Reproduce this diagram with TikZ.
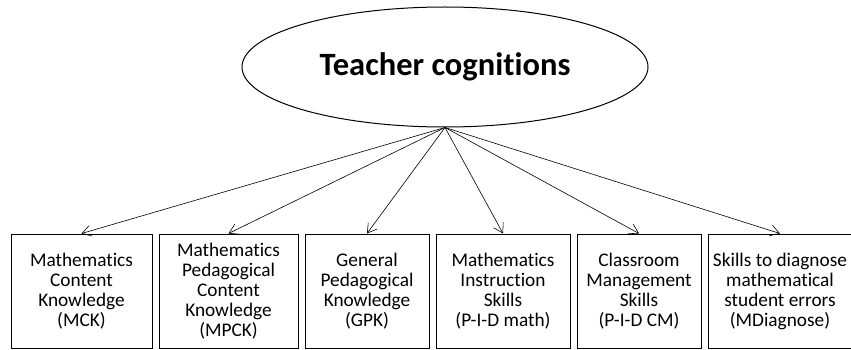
\documentclass[tikz,border=0pt]{standalone}
\usepackage{fontspec}
\setmainfont{Carlito}[Ligatures=CommonOff]
\usetikzlibrary{shapes.geometric, arrows.meta, positioning}

\begin{document}
\begin{tikzpicture}[x=1pt, y=1pt, node distance=6pt, >={Straight Barb[length=9pt,width=11pt]},
    skillbox/.style={draw, rectangle, line width=1pt, text centered, align=center, inner sep=0pt,
        minimum height=114pt, font=\fontsize{19.3}{20}\selectfont}]
    \useasboundingbox (0,0) rectangle (851,-350);
    % Nodes
    \node (cog) [draw, ellipse, line width=1pt, minimum width=406pt, minimum height=120pt, inner sep=0pt,
        font=\fontsize{32.5}{36}\selectfont\bfseries] at (445,-67) {Teacher cognitions};
    \node (mck) [skillbox, minimum width=141pt] at (81.5,-291) {Mathematics\\Content\\Knowledge\\(MCK)};
    \node (mpck) [skillbox, right=of mck, minimum width=139pt] {Mathematics\\Pedagogical\\Content\\Knowledge\\(MPCK)};
    \node (gpk) [skillbox, right=of mpck, minimum width=124pt] {General\\Pedagogical\\Knowledge\\(GPK)};
    \node (pidmath) [skillbox, right=of gpk, minimum width=134pt] {Mathematics\\Instruction\\Skills\\(P-I-D math)};
    \node (pidcm) [skillbox, right=of pidmath, minimum width=124pt] {Classroom\\Management\\Skills\\(P-I-D CM)};
    \node (mdiag) [skillbox, right=of pidcm, minimum width=144pt] {Skills to diagnose\\mathematical\\student errors\\(MDiagnose)};

    % Arrows
    \foreach \target in {mck, mpck, gpk, pidmath, pidcm, mdiag}
        \draw[->, line width=0.6pt] (cog.south) -- (\target.north);
\end{tikzpicture}
\end{document}
